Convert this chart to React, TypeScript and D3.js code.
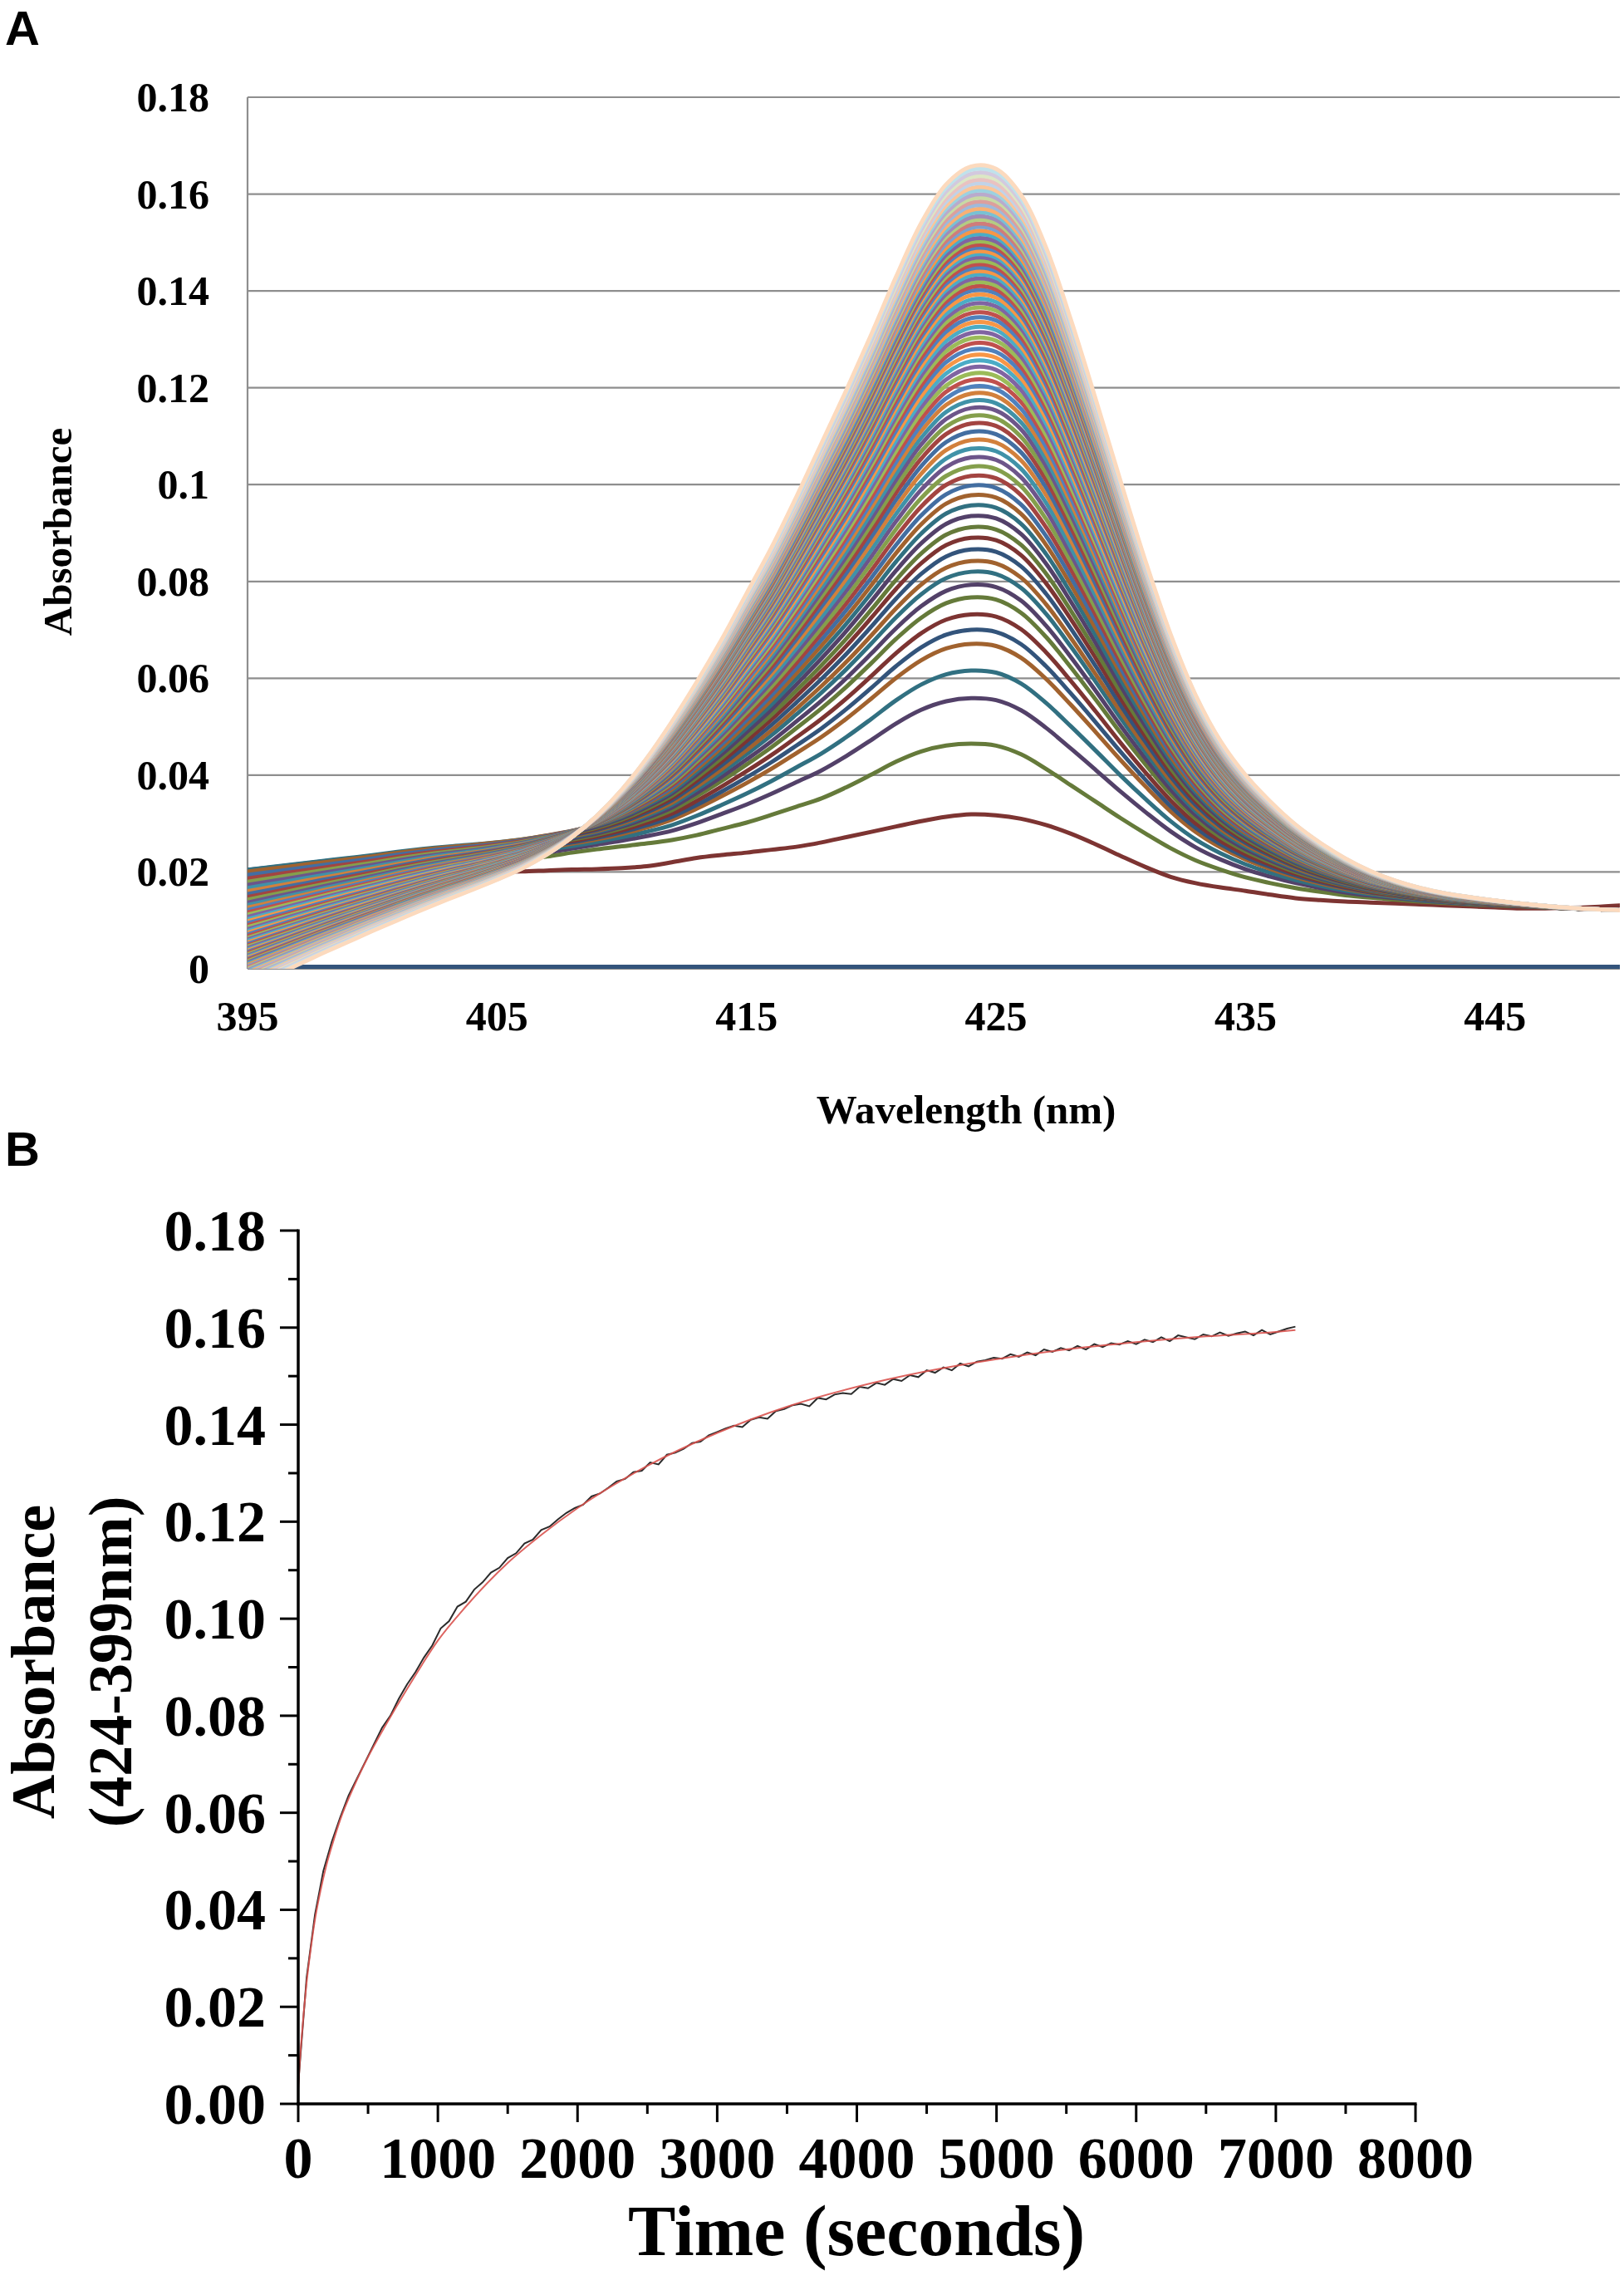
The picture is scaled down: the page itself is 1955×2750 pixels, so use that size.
import * as d3 from 'd3'

// ---------- panel A : repeated spectra ----------
const wavelengths = [
  395, 396, 397, 398, 399, 400, 401, 402, 403, 404,
  405, 406, 407, 408, 409, 410, 411, 412, 413, 414,
  415, 416, 417, 418, 419, 420, 421, 422, 423, 424,
  425, 426, 427, 428, 429, 430, 431, 432, 433, 434,
  435, 436, 437, 438, 439, 440, 441, 442, 443, 444,
  445, 446, 447, 448, 449, 450,
]

// first scan (dark red, lowest peak)
const firstScan = [
  0.0195, 0.0196, 0.0197, 0.0198, 0.0199, 0.0200, 0.0200, 0.0201, 0.0201, 0.0200,
  0.0200, 0.0201, 0.0203, 0.0205, 0.0206, 0.0208, 0.0212, 0.0220, 0.0229, 0.0235,
  0.0240, 0.0246, 0.0252, 0.0261, 0.0272, 0.0283, 0.0294, 0.0305, 0.0314, 0.0319,
  0.0317, 0.0310, 0.0297, 0.0279, 0.0257, 0.0233, 0.0210, 0.0190, 0.0177, 0.0168,
  0.0161, 0.0153, 0.0146, 0.0142, 0.0139, 0.0137, 0.0135, 0.0133, 0.0131, 0.0129,
  0.0127, 0.0125, 0.0125, 0.0126, 0.0128, 0.0131,
]

// second scan (green)
const secondScan = [
  0.0190, 0.0194, 0.0198, 0.0202, 0.0206, 0.0209, 0.0212, 0.0215, 0.0218, 0.0220,
  0.0223, 0.0226, 0.0232, 0.0240, 0.0247, 0.0253, 0.0259, 0.0266, 0.0276, 0.0289,
  0.0302, 0.0318, 0.0335, 0.0352, 0.0375, 0.0401, 0.0428, 0.0449, 0.0461, 0.0465,
  0.0461, 0.0443, 0.0413, 0.0379, 0.0345, 0.0311, 0.0279, 0.0249, 0.0224, 0.0205,
  0.0189, 0.0177, 0.0167, 0.0159, 0.0152, 0.0147, 0.0143, 0.0139, 0.0136, 0.0133,
  0.0131, 0.0129, 0.0127, 0.0125, 0.0123, 0.0121,
]

// a middle scan (peak ~0.097)
const midScan = [
  0.0205, 0.0211, 0.0217, 0.0223, 0.0229, 0.0235, 0.0242, 0.0248, 0.0253, 0.0257,
  0.0262, 0.0268, 0.0276, 0.0285, 0.0297, 0.0315, 0.0339, 0.0368, 0.0409, 0.0453,
  0.0501, 0.0550, 0.0604, 0.0660, 0.0719, 0.0783, 0.0849, 0.0907, 0.0949, 0.0966,
  0.0961, 0.0928, 0.0865, 0.0783, 0.0694, 0.0602, 0.0515, 0.0434, 0.0367, 0.0316,
  0.0278, 0.0248, 0.0222, 0.0201, 0.0184, 0.0170, 0.0160, 0.0151, 0.0144, 0.0139,
  0.0135, 0.0132, 0.0128, 0.0125, 0.0123, 0.0121,
]

// last scan (outermost, pale)
const lastScan = [
  -0.0040, -0.0016, 0.0008, 0.0032, 0.0055, 0.0078, 0.0100, 0.0122, 0.0143, 0.0163,
  0.0184, 0.0207, 0.0236, 0.0272, 0.0316, 0.0370, 0.0435, 0.0510, 0.0592, 0.0680,
  0.0775, 0.0870, 0.0975, 0.1085, 0.1195, 0.1310, 0.1430, 0.1540, 0.1620, 0.1657,
  0.1652, 0.1598, 0.1490, 0.1340, 0.1175, 0.1005, 0.0840, 0.0690, 0.0565, 0.0470,
  0.0400, 0.0345, 0.0298, 0.0260, 0.0228, 0.0202, 0.0182, 0.0167, 0.0156, 0.0148,
  0.0141, 0.0135, 0.0130, 0.0126, 0.0123, 0.0121,
]

// absorbance at 424 nm of every scan after the first one
const scanPeaks = [
  0.0465, 0.0559, 0.0616, 0.0671, 0.0700, 0.0732, 0.0767, 0.0793, 0.0820, 0.0842,
  0.0866, 0.0890, 0.0912, 0.0935, 0.0957, 0.0978, 0.0998, 0.1018, 0.1037, 0.1056,
  0.1074, 0.1092, 0.1109, 0.1126, 0.1142, 0.1158, 0.1173, 0.1188, 0.1202, 0.1216,
  0.1229, 0.1242, 0.1255, 0.1267, 0.1279, 0.1291, 0.1302, 0.1313, 0.1324, 0.1334,
  0.1344, 0.1354, 0.1364, 0.1373, 0.1382, 0.1391, 0.1400, 0.1408, 0.1416, 0.1424,
  0.1432, 0.1439, 0.1446, 0.1453, 0.1460, 0.1467, 0.1474, 0.1480, 0.1487, 0.1493,
  0.1500, 0.1507, 0.1515, 0.1522, 0.1530, 0.1537, 0.1545, 0.1552, 0.1560, 0.1567,
  0.1575, 0.1582, 0.1590, 0.1597, 0.1605, 0.1612, 0.1620, 0.1627, 0.1635, 0.1642,
  0.1650, 0.1657,
]

const xTicksA = [395, 405, 415, 425, 435, 445]
const yTicksA = [0, 0.02, 0.04, 0.06, 0.08, 0.1, 0.12, 0.14, 0.16, 0.18]
const yLabelsA = ['0', '0.02', '0.04', '0.06', '0.08', '0.1', '0.12', '0.14', '0.16', '0.18']

// ---------- panel B : kinetics ----------
const sampleStep = 60 // seconds between points
const absData = [
  0.0040, 0.0260, 0.0390, 0.0480, 0.0540, 0.0590, 0.0635, 0.0670, 0.0705, 0.0740,
  0.0775, 0.0800, 0.0835, 0.0865, 0.0890, 0.0920, 0.0945, 0.0980, 0.0995, 0.1025,
  0.1035, 0.1060, 0.1075, 0.1095, 0.1105, 0.1125, 0.1135, 0.1155, 0.1163, 0.1183,
  0.1190, 0.1205, 0.1218, 0.1228, 0.1235, 0.1252, 0.1258, 0.1270, 0.1283, 0.1288,
  0.1302, 0.1305, 0.1322, 0.1318, 0.1338, 0.1342, 0.1350, 0.1362, 0.1365, 0.1378,
  0.1385, 0.1392, 0.1398, 0.1395, 0.1410, 0.1415, 0.1412, 0.1428, 0.1432, 0.1440,
  0.1443, 0.1438, 0.1455, 0.1452, 0.1462, 0.1465, 0.1463, 0.1478, 0.1475, 0.1486,
  0.1482, 0.1494, 0.1490, 0.1502, 0.1498, 0.1512, 0.1507, 0.1518, 0.1512, 0.1526,
  0.1520, 0.1530, 0.1533, 0.1538, 0.1536, 0.1545, 0.1540, 0.1549, 0.1543, 0.1555,
  0.1550, 0.1558, 0.1553, 0.1562, 0.1555, 0.1566, 0.1560, 0.1568, 0.1565, 0.1572,
  0.1566, 0.1575, 0.1570, 0.1580, 0.1572, 0.1584, 0.1580, 0.1576, 0.1586, 0.1582,
  0.1590, 0.1583, 0.1588, 0.1592, 0.1584, 0.1595, 0.1586, 0.1592, 0.1598, 0.1602,
]
const fitTimes = [0, 10, 20, 40, 60, 90, 120, 160, 200, 250, 300, 400, 500, 625, 800, 1000,
  1200, 1500, 1750, 2000, 2500, 3000, 3500, 4000, 4500, 5000, 5500, 6000, 6500, 7000, 7140]
const fitValues = [0.003, 0.008, 0.012, 0.019, 0.025, 0.032, 0.038, 0.044, 0.049, 0.054, 0.0585,
  0.0655, 0.0715, 0.078, 0.0865, 0.0955, 0.1025, 0.1115, 0.1175, 0.1228, 0.1315, 0.1383, 0.1437,
  0.1478, 0.151, 0.1535, 0.1555, 0.157, 0.1582, 0.1591, 0.1595]

const xTicksB = [0, 1000, 2000, 3000, 4000, 5000, 6000, 7000, 8000]
const yTicksB = [0, 0.02, 0.04, 0.06, 0.08, 0.1, 0.12, 0.14, 0.16, 0.18]

const serif = '"Liberation Serif", "Times New Roman", serif'
const sans = '"Liberation Sans", Arial, sans-serif'

// Excel-like series palette
const hues = ['#4f81bd', '#c0504d', '#9bbb59', '#8064a2', '#4bacc6', '#f79646']
function seriesColor(s: number) {
  const base = hues[s % 6]
  const g = Math.floor(s / 6)
  if (g <= 2) return d3.interpolateRgb(base, '#000')(0.35)
  if (g <= 4) return d3.interpolateRgb(base, '#000')(0.15)
  if (g <= 10) return base
  if (g <= 11) return d3.interpolateRgb(base, '#fff')(0.25)
  if (g <= 12) return d3.interpolateRgb(base, '#fff')(0.45)
  return d3.interpolateRgb(base, '#fff')(0.65)
}

const PEAK = wavelengths.indexOf(424)

function scanFromPeak(p: number) {
  const g0 = secondScan[PEAK], m0 = midScan[PEAK], f0 = lastScan[PEAK]
  if (p <= m0) {
    const t = (p - g0) / (m0 - g0)
    return secondScan.map((v, j) => v + t * (midScan[j] - v))
  }
  const t = (p - m0) / (f0 - m0)
  return midScan.map((v, j) => v + t * (lastScan[j] - v))
}

export default function App() {
  // panel A
  const xA = d3.scaleLinear().domain([395, 450]).range([298, 1950])
  const yA = d3.scaleLinear().domain([0, 0.18]).range([1166, 117])
  const lineA = d3.line<number>()
    .x((_, i) => xA(wavelengths[i]))
    .y(d => yA(d))
    .curve(d3.curveCatmullRom)

  const scans = [firstScan, ...scanPeaks.map(scanFromPeak)]
  const zeroSeries = wavelengths.map(() => 0)

  // panel B
  const xB = d3.scaleLinear().domain([0, 8000]).range([359, 1704])
  const yB = d3.scaleLinear().domain([0, 0.18]).range([2532, 1481])
  const lineData = d3.line<number>().x((_, i) => xB(i * sampleStep)).y(d => yB(d))
  const lineFit = d3.line<number>().x((_, i) => xB(fitTimes[i])).y(d => yB(d)).curve(d3.curveMonotoneX)

  const minorY = yTicksB.slice(0, -1).map(v => v + 0.01)
  const minorX = xTicksB.slice(0, -1).map(v => v + 500)

  return (
    <svg width={1955} height={2750} style={{ position: 'absolute', left: 0, top: 0, background: '#fff' }}>
      <defs>
        <clipPath id="plotA">
          <rect x={298} y={117} width={1652} height={1049} />
        </clipPath>
      </defs>

      {/* ---------------- A ---------------- */}
      <text x={6} y={54} fontFamily={sans} fontWeight="bold" fontSize={58}>A</text>

      {yTicksA.map(v => (
        <line key={v} x1={298} x2={1950} y1={yA(v)} y2={yA(v)} stroke="#8e8e8e" strokeWidth={2.2} />
      ))}
      <line x1={298} x2={298} y1={117} y2={1166} stroke="#8e8e8e" strokeWidth={2.2} />

      <g clipPath="url(#plotA)" fill="none" strokeLinejoin="round" strokeLinecap="round">
        <path d={lineA(zeroSeries) ?? ''} stroke={seriesColor(0)} strokeWidth={10} />
        {scans.map((sc, i) => (
          <path key={i} d={lineA(sc) ?? ''} stroke={seriesColor(i + 1)} strokeWidth={5} />
        ))}
      </g>

      {yTicksA.map((v, i) => (
        <text key={v} x={252} y={yA(v) + 17} textAnchor="end" fontFamily={serif}
          fontWeight="bold" fontSize={50}>{yLabelsA[i]}</text>
      ))}
      {xTicksA.map(v => (
        <text key={v} x={xA(v)} y={1240} textAnchor="middle" fontFamily={serif}
          fontWeight="bold" fontSize={50}>{v}</text>
      ))}
      <text transform="translate(86,640) rotate(-90)" textAnchor="middle" fontFamily={serif}
        fontWeight="bold" fontSize={49}>Absorbance</text>
      <text x={1163} y={1352} textAnchor="middle" fontFamily={serif} fontWeight="bold"
        fontSize={49}>Wavelength (nm)</text>

      {/* ---------------- B ---------------- */}
      <text x={6} y={1403} fontFamily={sans} fontWeight="bold" fontSize={58}>B</text>

      <path d={lineData(absData) ?? ''} fill="none" stroke="#2b2b2b" strokeWidth={2} />
      <path d={lineFit(fitValues) ?? ''} fill="none" stroke="#d9534f" strokeWidth={2} strokeOpacity={0.9} />

      <g stroke="#000" strokeWidth={3.5}>
        <line x1={359} x2={359} y1={yB(0.18) - 1.5} y2={yB(0) + 1.5} />
        <line x1={357} x2={xB(8000) + 1.5} y1={yB(0)} y2={yB(0)} />
        {yTicksB.map(v => <line key={'ym' + v} x1={337} x2={359} y1={yB(v)} y2={yB(v)} strokeWidth={3} />)}
        {minorY.map(v => <line key={'yn' + v} x1={347} x2={359} y1={yB(v)} y2={yB(v)} strokeWidth={3} />)}
        {xTicksB.map(v => <line key={'xm' + v} x1={xB(v)} x2={xB(v)} y1={yB(0)} y2={yB(0) + 22} strokeWidth={3} />)}
        {minorX.map(v => <line key={'xn' + v} x1={xB(v)} x2={xB(v)} y1={yB(0)} y2={yB(0) + 12} strokeWidth={3} />)}
      </g>

      {yTicksB.map(v => (
        <text key={v} x={320} y={yB(v) + 24} textAnchor="end" fontFamily={serif}
          fontWeight="bold" fontSize={70}>{v.toFixed(2)}</text>
      ))}
      {xTicksB.map(v => (
        <text key={v} x={xB(v)} y={2621} textAnchor="middle" fontFamily={serif}
          fontWeight="bold" fontSize={70}>{v}</text>
      ))}
      <text transform="translate(65,2000) rotate(-90)" textAnchor="middle" fontFamily={serif}
        fontWeight="bold" fontSize={74}>Absorbance</text>
      <text transform="translate(158,2000) rotate(-90)" textAnchor="middle" fontFamily={serif}
        fontWeight="bold" fontSize={74}>(424-399nm)</text>
      <text x={1031} y={2714} textAnchor="middle" fontFamily={serif} fontWeight="bold"
        fontSize={86}>Time (seconds)</text>
    </svg>
  )
}
